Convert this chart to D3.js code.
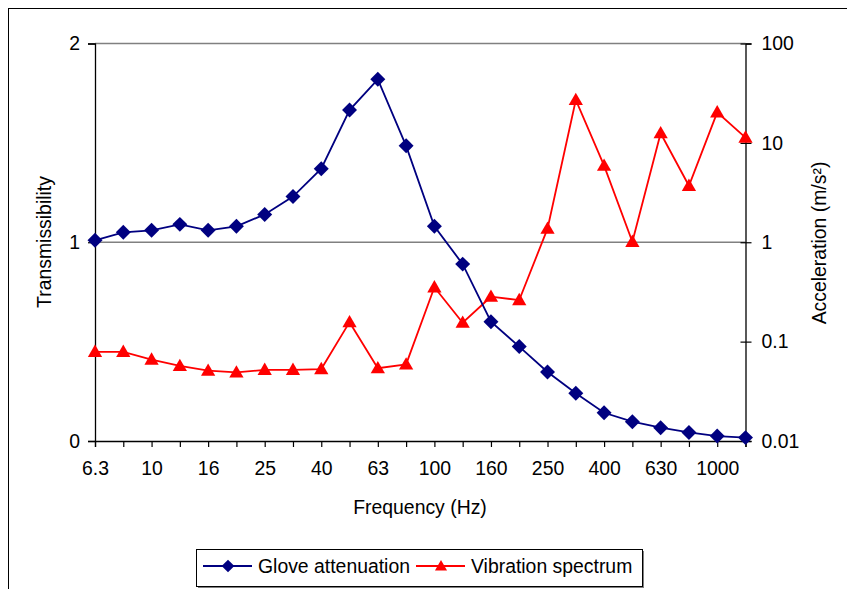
<!DOCTYPE html>
<html>
<head>
<meta charset="utf-8">
<script src="https://cdn.jsdelivr.net/npm/d3@7"></script>
<style>
  html, body { margin: 0; padding: 0; background: #fff; }
  svg { display: block; font-family: "Liberation Sans", Arial, sans-serif; }
</style>
</head>
<body>
<svg id="chart" width="847" height="589"></svg>
<script>
// One-third-octave band centre frequencies (Hz)
const frequencies = ["6.3", "8", "10", "12.5", "16", "20", "25", "31.5", "40", "50", "63", "80",
                     "100", "125", "160", "200", "250", "315", "400", "500", "630", "800", "1000", "1250"];
// Labelled bands on the frequency axis
const freqTickLabels = ["6.3", "10", "16", "25", "40", "63", "100", "160", "250", "400", "630", "1000"];

// Glove transmissibility per band (left axis)
const gloveAttenuation = [1.01, 1.05, 1.06, 1.09, 1.06, 1.08, 1.14, 1.23, 1.37, 1.665, 1.82, 1.485,
                          1.08, 0.89, 0.60, 0.475, 0.347, 0.24, 0.142, 0.097, 0.067, 0.043, 0.025, 0.017];
// Vibration acceleration per band, m/s² (right log axis)
const vibrationSpectrum = [0.079, 0.079, 0.066, 0.057, 0.051, 0.049, 0.052, 0.052, 0.053, 0.157, 0.054, 0.059,
                           0.352, 0.155, 0.283, 0.262, 1.37, 27, 5.9, 1.01, 12.5, 3.7, 20.3, 11.3];

const leftTicks = [0, 1, 2];
const rightTicks = [0.01, 0.1, 1, 10, 100];

const svg = d3.select("#chart");
const plot = { left: 95, right: 745.5, top: 43.5, bottom: 441 };
const FONT = 19.4;

// outer chart frame
svg.append("rect")
  .attr("x", 8.5).attr("y", 8.5).attr("width", 850).attr("height", 600)
  .attr("fill", "none").attr("stroke", "#000").attr("stroke-width", 1);

const x = d3.scalePoint().domain(frequencies).range([plot.left, plot.right]);
const yLeft = d3.scaleLinear().domain([0, 2]).range([plot.bottom, plot.top]);
const yRight = d3.scaleLog().domain([0.01, 100]).range([plot.bottom, plot.top]);

// horizontal gridlines at the major left-axis values
svg.append("g").selectAll("line")
  .data(leftTicks.filter(d => d > 0))
  .join("line")
  .attr("x1", plot.left).attr("x2", plot.right)
  .attr("y1", d => yLeft(d)).attr("y2", d => yLeft(d))
  .attr("stroke", "#808080").attr("stroke-width", 1.3);

// left axis
const leftAxis = svg.append("g")
  .attr("transform", `translate(${plot.left},0)`)
  .call(d3.axisLeft(yLeft).tickValues(leftTicks).tickFormat(d3.format("d")).tickSize(7).tickPadding(8));
// right axis (log)
const rightAxis = svg.append("g")
  .attr("transform", `translate(${plot.right},0)`)
  .call(d3.axisRight(yRight).tickValues(rightTicks).tickFormat(d => String(d)).tickSize(6).tickPadding(10));
rightAxis.selectAll(".tick line").attr("x1", -5);
// category axis
const xAxis = svg.append("g")
  .attr("transform", `translate(0,${plot.bottom})`)
  .call(d3.axisBottom(x).tickSize(6).tickPadding(10)
    .tickFormat(d => freqTickLabels.includes(d) ? d : ""));

[leftAxis, rightAxis, xAxis].forEach(g => {
  g.select(".domain").attr("stroke", "#000").attr("stroke-width", 1.3);
  g.selectAll(".tick line").attr("stroke", "#000").attr("stroke-width", 1.2);
  g.selectAll("text").attr("font-size", FONT).attr("fill", "#000")
    .attr("font-family", "Liberation Sans, Arial, sans-serif");
});
xAxis.selectAll("text").attr("dy", "0.95em");

// axis titles
svg.append("text")
  .attr("transform", `translate(51,242) rotate(-90)`)
  .attr("text-anchor", "middle").attr("font-size", FONT).text("Transmissibility");
svg.append("text")
  .attr("transform", `translate(826,243) rotate(-90)`)
  .attr("text-anchor", "middle").attr("font-size", FONT).text("Acceleration (m/s²)");
svg.append("text")
  .attr("x", 420).attr("y", 514)
  .attr("text-anchor", "middle").attr("font-size", FONT).text("Frequency (Hz)");

const NAVY = "#000080", RED = "#ff0000";
const diamond = d3.symbol().type(d3.symbolSquare).size(112);
const triangle = d3.symbol().type(d3.symbolTriangle).size(88);

// vibration spectrum series
svg.append("path")
  .datum(vibrationSpectrum)
  .attr("fill", "none").attr("stroke", RED).attr("stroke-width", 1.8)
  .attr("d", d3.line().x((d, i) => x(frequencies[i])).y(d => yRight(d)));
svg.append("g").selectAll("path")
  .data(vibrationSpectrum)
  .join("path")
  .attr("d", triangle)
  .attr("transform", (d, i) => `translate(${x(frequencies[i])},${yRight(d) + 1})`)
  .attr("fill", RED);

// glove attenuation series
svg.append("path")
  .datum(gloveAttenuation)
  .attr("fill", "none").attr("stroke", NAVY).attr("stroke-width", 1.8)
  .attr("d", d3.line().x((d, i) => x(frequencies[i])).y(d => yLeft(d)));
svg.append("g").selectAll("path")
  .data(gloveAttenuation)
  .join("path")
  .attr("d", diamond)
  .attr("transform", (d, i) => `translate(${x(frequencies[i])},${yLeft(d)}) rotate(45)`)
  .attr("fill", NAVY);

// legend
const legend = svg.append("g");
legend.append("rect")
  .attr("x", 198).attr("y", 551).attr("width", 446).attr("height", 37)
  .attr("fill", "#808080");
legend.append("rect")
  .attr("x", 196.5).attr("y", 549.5).attr("width", 446).attr("height", 37)
  .attr("fill", "#fff").attr("stroke", "#000").attr("stroke-width", 1);
const legendItems = [
  { name: "Glove attenuation", color: NAVY, symbol: diamond, rot: 45, x0: 203 },
  { name: "Vibration spectrum", color: RED, symbol: triangle, rot: 0, x0: 416 }
];
legendItems.forEach(item => {
  const g = legend.append("g");
  g.append("line")
    .attr("x1", item.x0).attr("x2", item.x0 + 49)
    .attr("y1", 566).attr("y2", 566)
    .attr("stroke", item.color).attr("stroke-width", 1.8);
  g.append("path")
    .attr("d", item.symbol)
    .attr("transform", `translate(${item.x0 + 25},${item.rot ? 566 : 567}) rotate(${item.rot}) scale(0.85)`)
    .attr("fill", item.color);
  g.append("text")
    .attr("x", item.x0 + 55).attr("y", 572.5)
    .attr("font-size", FONT).text(item.name);
});
</script>
</body>
</html>
